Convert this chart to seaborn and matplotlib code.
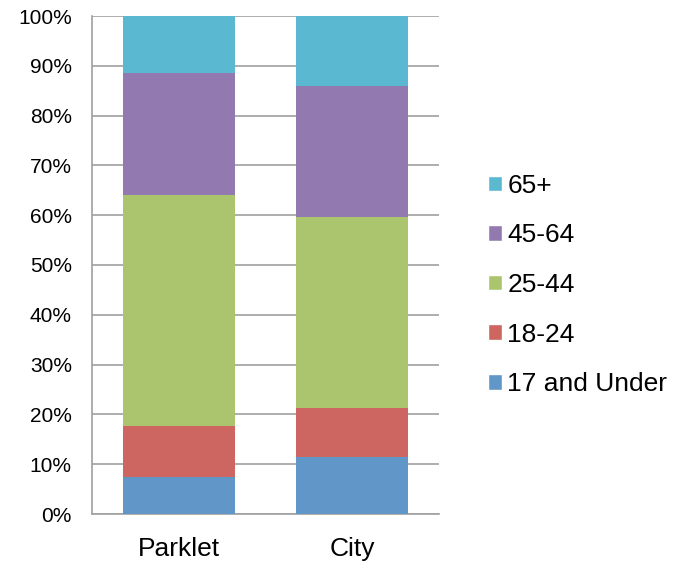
import numpy as np
import pandas as pd
import seaborn as sns
import matplotlib.pyplot as plt
from matplotlib.patches import Patch
from matplotlib.ticker import PercentFormatter

# data (percent of each group)
groups = ['Parklet', 'City']
age_bands = ['17 and Under', '18-24', '25-44', '45-64', '65+']
under17 = [7.5, 11.5]
age18_24 = [10.1, 9.8]
age25_44 = [46.4, 38.3]
age45_64 = [24.6, 26.4]
age65 = [11.4, 14.0]
colors = ['#6196c8', '#cd6661', '#abc56f', '#927ab1', '#5ab9d0']

df = pd.DataFrame({'group': groups, '17 and Under': under17, '18-24': age18_24,
                   '25-44': age25_44, '45-64': age45_64, '65+': age65})
cum = df[age_bands].cumsum(axis=1)

sns.set_style('white')
plt.rcParams['font.family'] = ['Liberation Sans', 'DejaVu Sans']
plt.rcParams['text.color'] = 'black'
plt.rcParams['xtick.color'] = 'black'
plt.rcParams['ytick.color'] = 'black'
fig = plt.figure(figsize=(6.89, 5.64), dpi=100)
ax = fig.add_axes([92/689, 1-514/564, 347/689, 498/564])

# stacked bars: draw the running totals from the top band down
for band, c in zip(age_bands[::-1], colors[::-1]):
    sns.barplot(x=df['group'], y=cum[band], color=c, width=0.645, saturation=1,
                edgecolor='none', ax=ax, zorder=3)

ax.set_ylim(0, 100)
ax.set_yticks(np.arange(0, 101, 10))
ax.yaxis.set_major_formatter(PercentFormatter(decimals=0))
ax.grid(axis='y', color='#a0a0a0', linewidth=1.2, zorder=0)
ax.set_axisbelow(True)
for s in ['top', 'right']:
    ax.spines[s].set_visible(False)
for s in ['left', 'bottom']:
    ax.spines[s].set_color('#a0a0a0')
    ax.spines[s].set_linewidth(1.2)
ax.tick_params(axis='y', left=False, labelsize=15, pad=11, labelcolor='black')
ax.tick_params(axis='x', bottom=False, labelsize=19, pad=13, labelcolor='black')
ax.set_xlabel(None)
ax.set_ylabel(None)

handles = [Patch(facecolor=c, label=b) for b, c in zip(age_bands[::-1], colors[::-1])]
fig.legend(handles=handles, loc='center left', bbox_to_anchor=(488/689, 1-285/564),
           frameon=False, fontsize=19, handlelength=0.53, handleheight=0.53,
           handletextpad=0.2, labelspacing=0.97, borderpad=0, borderaxespad=0)

plt.savefig('out.png', dpi=100)
